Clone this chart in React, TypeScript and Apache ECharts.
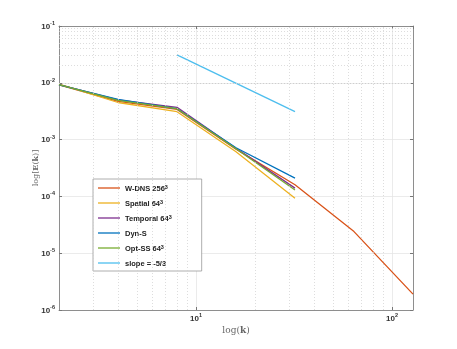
import React, { useEffect, useRef } from "react";
import * as echarts from "echarts";

const kFull = [2, 4, 8, 16, 32, 64, 128];
const k64 = [2, 4, 8, 16, 32];
const kSlope = [8, 32];

const wdns = [0.0092, 0.0047, 0.0034, 6.8e-4, 1.6e-4, 2.4e-5, 1.9e-6];
const spatial = [0.0095, 0.0045, 0.0031, 6.1e-4, 9.3e-5];
const temporal = [0.0093, 0.005, 0.0037, 7.0e-4, 1.4e-4];
const dyns = [0.0092, 0.0051, 0.0035, 7.2e-4, 2.1e-4];
const optss = [0.0093, 0.0049, 0.0035, 6.9e-4, 1.3e-4];
const slope = [0.031, 0.0031];

const seriesNames = [
  "W-DNS 256{sup|3}",
  "Spatial 64{sup|3}",
  "Temporal 64{sup|3}",
  "Dyn-S",
  "Opt-SS 64{sup|3}",
  "slope = -5/3",
];
const colors = ["#D95319", "#EDB120", "#7E2F8E", "#0072BD", "#77AC30", "#4DBEEE"];

const xMin = 2;
const xMax = 128;
const yMin = 1e-6;
const yMax = 1e-1;

const minorX = [3, 4, 5, 6, 7, 8, 9, 20, 30, 40, 50, 60, 70, 80, 90];
const minorY: number[] = [];
for (let e = -6; e < -1; e++) {
  for (let m = 2; m <= 9; m++) minorY.push(m * Math.pow(10, e));
}

const pairs = (xs: number[], ys: number[]) => xs.map((x, i) => [x, ys[i]]);

const powLabel = (v: number) => {
  const e = Math.log10(v);
  const r = Math.round(e);
  if (Math.abs(e - r) > 1e-6) return "";
  return `{b|10}{s|${r}}`;
};

const tickRich = {
  b: { fontSize: 8, fontFamily: "Liberation Sans, Arial, sans-serif", color: "#333", fontWeight: "bold", lineHeight: 12, verticalAlign: "middle" },
  s: { fontSize: 5.5, fontFamily: "Liberation Sans, Arial, sans-serif", color: "#333", fontWeight: "bold", lineHeight: 12, verticalAlign: "top" },
};

export default function App() {
  const ref = useRef<HTMLDivElement>(null);
  useEffect(() => {
    if (!ref.current) return;
    const chart = echarts.init(ref.current, undefined, { renderer: "svg" });
    const lineSeries = [wdns, spatial, temporal, dyns, optss, slope].map((vals, i) => ({
      name: seriesNames[i],
      type: "line",
      data: pairs(i === 0 ? kFull : i === 5 ? kSlope : k64, vals),
      symbol: "none",
      showSymbol: false,
      lineStyle: { width: 1.3, color: colors[i] },
      itemStyle: { color: colors[i] },
      z: 3,
    }));
    chart.setOption({
      animation: false,
      grid: { left: 59, right: 44, top: 26, bottom: 39 },
      legend: {
        data: seriesNames,
        orient: "vertical",
        left: 93,
        top: 179,
        icon: "rect",
        itemWidth: 22,
        itemHeight: 1.3,
        itemGap: 7,
        padding: [5, 30, 4, 5],
        backgroundColor: "#fff",
        borderColor: "#999",
        borderWidth: 0.8,
        textStyle: {
          fontSize: 7.5,
          lineHeight: 8,
          fontFamily: "Liberation Sans, Arial, sans-serif",
          color: "#222",
          fontWeight: "bold",
          rich: {
            sup: { fontSize: 5.5, fontWeight: "bold", verticalAlign: "top", lineHeight: 6 },
          },
        },
      },
      xAxis: [
        {
          type: "log",
          logBase: 10,
          min: xMin,
          max: xMax,
          name: "{t|log(}{bb|k}{t|)}",
          nameLocation: "middle",
          nameGap: 15,
          nameMoveOverlap: false,
          nameTextStyle: {
            rich: {
              t: { fontFamily: "DejaVu Serif, Liberation Serif, serif", fontSize: 9, color: "#666" },
              bb: { fontFamily: "DejaVu Serif, Liberation Serif, serif", fontSize: 9, color: "#666", fontWeight: "bold" },
            },
          },
          axisLine: { lineStyle: { color: "#777", width: 0.8 } },
          axisTick: { inside: true, length: 3, lineStyle: { color: "#777" } },
          axisLabel: { formatter: powLabel, rich: tickRich, margin: 2, showMinLabel: false, showMaxLabel: false },
          splitLine: { show: true, lineStyle: { color: "#e6e6e6", width: 0.8 } },
        },
        {
          type: "log",
          logBase: 10,
          min: xMin,
          max: xMax,
          position: "top",
          axisLine: { lineStyle: { color: "#777", width: 0.8 } },
          axisTick: { inside: true, length: 3, lineStyle: { color: "#777" } },
          axisLabel: { show: false },
          splitLine: { show: false },
        },
      ],
      yAxis: [
        {
          type: "log",
          logBase: 10,
          min: yMin,
          max: yMax,
          name: "{t|log[}{bb|E}{t|(}{bb|k}{t|)]}",
          nameLocation: "middle",
          nameGap: 20,
          nameMoveOverlap: false,
          nameRotate: 90,
          nameTextStyle: {
            rich: {
              t: { fontFamily: "DejaVu Serif, Liberation Serif, serif", fontSize: 8, color: "#666" },
              bb: { fontFamily: "DejaVu Serif, Liberation Serif, serif", fontSize: 8, color: "#666", fontWeight: "bold" },
            },
          },
          axisLine: { show: true, lineStyle: { color: "#777", width: 0.8 } },
          axisTick: { show: true, inside: true, length: 3, lineStyle: { color: "#777" } },
          axisLabel: { formatter: powLabel, rich: tickRich, margin: 4 },
          splitLine: { show: true, lineStyle: { color: "#e6e6e6", width: 0.8 } },
        },
        {
          type: "log",
          logBase: 10,
          min: yMin,
          max: yMax,
          position: "right",
          axisLine: { show: true, lineStyle: { color: "#777", width: 0.8 } },
          axisTick: { show: true, inside: true, length: 3, lineStyle: { color: "#777" } },
          axisLabel: { show: false },
          splitLine: { show: false },
        },
      ],
      series: [
        {
          name: "__grid",
          type: "line",
          data: [],
          z: 1,
          silent: true,
          markLine: {
            silent: true,
            symbol: ["none", "none"],
            label: { show: false },
            lineStyle: { type: [1, 2], color: "#cfcfcf", width: 0.7 },
            data: [
              ...minorX.map((v) => ({ xAxis: v })),
              ...minorY.map((v) => ({ yAxis: v })),
            ],
          },
        },
        ...lineSeries,
      ],
    });
    return () => chart.dispose();
  }, []);
  return (
    <div
      ref={ref}
      style={{ position: "fixed", left: 0, top: 0, width: 457, height: 349 }}
    />
  );
}
